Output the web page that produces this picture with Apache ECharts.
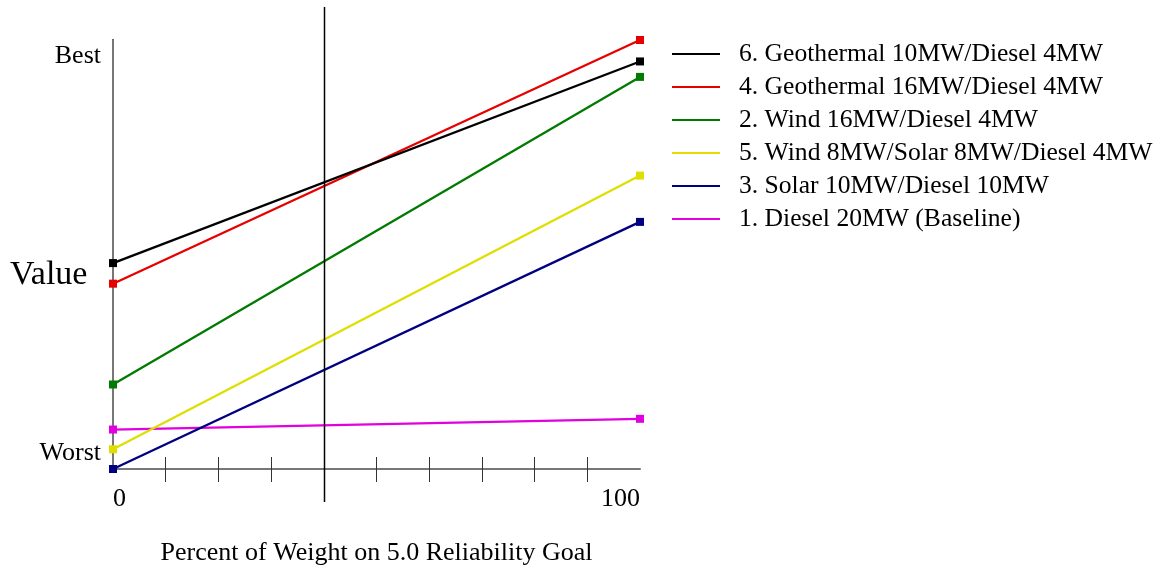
<!DOCTYPE html>
<html><head><meta charset="utf-8">
<script src="https://cdn.jsdelivr.net/npm/echarts@6/dist/echarts.min.js"></script>
<style>html,body{margin:0;padding:0;background:#fff}#c{width:1169px;height:569px}</style>
</head><body><div id="c"></div>
<script>
var xValues = [0, 100];
var seriesNames = [
  '6. Geothermal 10MW/Diesel 4MW',
  '4. Geothermal 16MW/Diesel 4MW',
  '2. Wind 16MW/Diesel 4MW',
  '5. Wind 8MW/Solar 8MW/Diesel 4MW',
  '3. Solar 10MW/Diesel 10MW',
  '1. Diesel 20MW (Baseline)'
];
var geo10 = [48.0, 95.0];
var geo16 = [43.2, 100];
var wind16 = [19.7, 91.4];
var windSolar = [4.6, 68.4];
var solar10 = [0, 57.6];
var diesel20 = [9.2, 11.7];
var seriesColors = ['#000000', '#e60000', '#007a00', '#dede00', '#000080', '#e000e0'];
var xTickLabels = ['0', '100'];
var yTickLabels = ['Worst', 'Best'];
var yTickValues = [3.8, 96.2];
var innerTicks = [10, 20, 30, 40, 50, 60, 70, 80, 90];
var refLineX = 40;

var allData = [geo10, geo16, wind16, windSolar, solar10, diesel20];
var FONT = '"Liberation Serif", "Times New Roman", serif';

var chart = echarts.init(document.getElementById('c'), null, {renderer: 'canvas'});
var series = allData.map(function (vals, i) {
  return {
    name: seriesNames[i],
    type: 'line',
    data: vals.map(function (v, j) { return [xValues[j], v]; }),
    symbol: 'rect',
    symbolSize: 8,
    showSymbol: true,
    lineStyle: {width: 2.3, color: seriesColors[i]},
    itemStyle: {color: seriesColors[i]},
    animation: false,
    z: 10 - i
  };
});

chart.setOption({
  animation: false,
  grid: {left: 113, right: 529, top: 40, bottom: 100, containLabel: false, outerBoundsMode: 'none'},
  legend: {
    orient: 'vertical', left: 672, top: 41, padding: 0,
    icon: 'rect', itemWidth: 48, itemHeight: 2, itemGap: 7,
    textStyle: {fontFamily: FONT, fontSize: 25.6, color: '#000', padding: [0, 0, 0, 14]},
    data: seriesNames
  },
  xAxis: [{
    type: 'value', min: 0, max: 100, position: 'bottom',
    axisLine: {show: true, lineStyle: {color: '#777', width: 2}},
    axisTick: {show: true, inside: true, length: 12, customValues: innerTicks, lineStyle: {color: '#333', width: 1}},
    splitLine: {show: false},
    axisLabel: {
      show: true, customValues: xValues, margin: 17,
      alignMinLabel: 'left', alignMaxLabel: 'right',
      fontFamily: FONT, fontSize: 26, color: '#000',
      formatter: function (v) { return xTickLabels[xValues.indexOf(v)]; }
    },
    name: 'Percent of Weight on 5.0 Reliability Goal',
    nameLocation: 'middle', nameGap: 71,
    nameTextStyle: {fontFamily: FONT, fontSize: 26, color: '#000'}
  }, {
    type: 'value', min: 0, max: 100, position: 'bottom',
    axisLine: {show: false},
    axisTick: {show: true, inside: false, length: 13, customValues: innerTicks, lineStyle: {color: '#333', width: 1}},
    splitLine: {show: false},
    axisLabel: {show: false}
  }],
  yAxis: [{
    type: 'value', min: 0, max: 100, position: 'left',
    axisLine: {show: true, lineStyle: {color: '#000', width: 2}},
    axisTick: {show: false},
    splitLine: {show: false},
    axisLabel: {
      show: true, customValues: yTickValues, margin: 12,
      fontFamily: FONT, fontSize: 26, color: '#000',
      formatter: function (v) { return yTickLabels[yTickValues.indexOf(v)]; }
    }
  }, {
    type: 'value', min: 0, max: 100, position: 'right',
    axisLine: {show: true, lineStyle: {color: '#777', width: 2}},
    axisTick: {show: false}, axisLabel: {show: false}, splitLine: {show: false}
  }],
  series: series
});

var px = chart.convertToPixel({xAxisIndex: 0}, refLineX);
chart.setOption({
  graphic: [{
    type: 'line', shape: {x1: Math.round(px) + 0.5, y1: 7, x2: Math.round(px) + 0.5, y2: 502},
    style: {stroke: '#000', lineWidth: 1.5}, z: 100
  }, {
    type: 'text', left: 10, top: 258,
    style: {text: 'Value', font: '34px ' + FONT, fill: '#000'}
  }]
});
</script>
</body></html>
